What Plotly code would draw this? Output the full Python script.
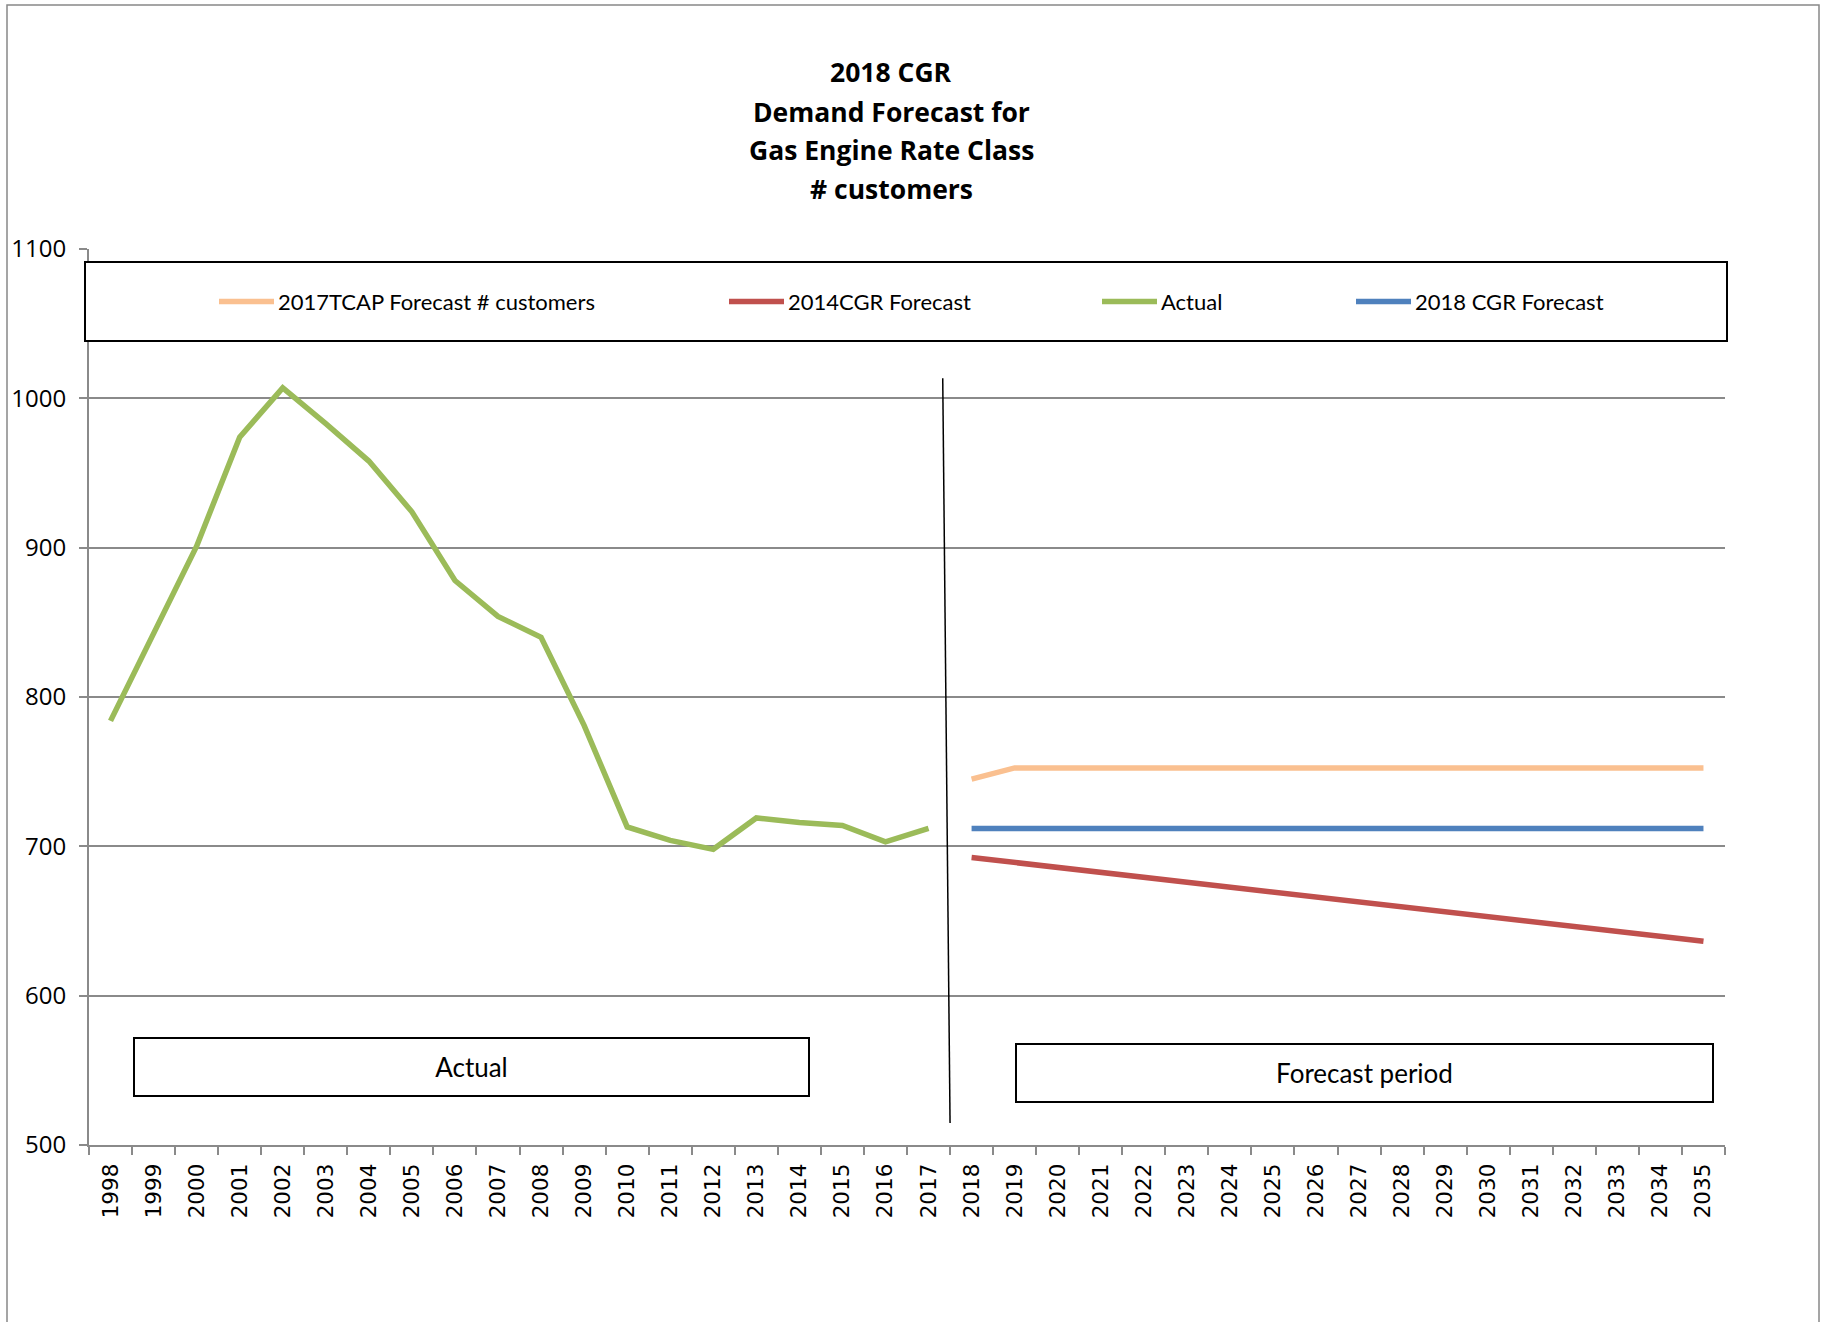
import plotly.graph_objects as go

# Categories: years on the x axis
years = ["1998", "1999", "2000", "2001", "2002", "2003", "2004", "2005", "2006", "2007",
         "2008", "2009", "2010", "2011", "2012", "2013", "2014", "2015", "2016", "2017",
         "2018", "2019", "2020", "2021", "2022", "2023", "2024", "2025", "2026", "2027",
         "2028", "2029", "2030", "2031", "2032", "2033", "2034", "2035"]
actual_years = years[:20]
forecast_years = years[20:]

# Series values (# customers)
actual = [784, 843, 901, 974, 1007, 983, 958, 924, 878, 854,
          840, 781, 713, 704, 698, 719, 716, 714, 703, 712]
tcap_2017 = [745, 752.5, 752.5, 752.5, 752.5, 752.5, 752.5, 752.5, 752.5,
             752.5, 752.5, 752.5, 752.5, 752.5, 752.5, 752.5, 752.5, 752.5]
cgr_2014 = [692.5, 689.2, 685.9, 682.6, 679.3, 676.0, 672.7, 669.4, 666.1,
            662.8, 659.5, 656.2, 652.9, 649.6, 646.3, 643.0, 639.7, 636.4]
cgr_2018 = [712, 712, 712, 712, 712, 712, 712, 712, 712,
            712, 712, 712, 712, 712, 712, 712, 712, 712]

series_names = ["2017TCAP Forecast # customers", "2014CGR Forecast", "Actual", "2018 CGR Forecast"]
series_colors = ["#FAC090", "#C0504D", "#9BBB59", "#4F81BD"]

title_lines = ["2018 CGR", "Demand Forecast for", "Gas Engine Rate Class", "# customers"]
y_ticks = [500, 600, 700, 800, 900, 1000, 1100]

W, H = 1826, 1322
ML, MR, MT, MB = 89, 101, 249, 177
PW, PH = W - ML - MR, H - MT - MB

TEXT_FONT = "Lato, 'Open Sans', sans-serif"
TITLE_FONT = "'Open Sans', Lato, sans-serif"
GRID = "#8a8a8a"


def px(x):
    return (x - ML) / PW


def py(y):
    return (H - MB - y) / PH


fig = go.Figure()
fig.add_trace(go.Scatter(x=forecast_years, y=tcap_2017, mode="lines", name=series_names[0],
                         line=dict(color=series_colors[0], width=5.5), showlegend=False))
fig.add_trace(go.Scatter(x=forecast_years, y=cgr_2014, mode="lines", name=series_names[1],
                         line=dict(color=series_colors[1], width=5.5), showlegend=False))
fig.add_trace(go.Scatter(x=actual_years, y=actual, mode="lines", name=series_names[2],
                         line=dict(color=series_colors[2], width=5.5), showlegend=False))
fig.add_trace(go.Scatter(x=forecast_years, y=cgr_2018, mode="lines", name=series_names[3],
                         line=dict(color=series_colors[3], width=5.5), showlegend=False))

shapes = []
annotations = []

# outer frame
shapes.append(dict(type="rect", xref="paper", yref="paper",
                   x0=px(7), x1=px(1819), y0=py(1400), y1=py(5),
                   line=dict(color="#888888", width=1.5), layer="below"))

# legend frame and entries
shapes.append(dict(type="rect", xref="paper", yref="paper",
                   x0=px(85), x1=px(1727), y0=py(341), y1=py(262),
                   line=dict(color="black", width=2), fillcolor="white", layer="above"))
legend_x = [219, 729, 1102, 1356]
legend_y = 301.5
for name, color, x0 in zip(series_names, series_colors, legend_x):
    shapes.append(dict(type="line", xref="paper", yref="paper",
                       x0=px(x0), x1=px(x0 + 55), y0=py(legend_y), y1=py(legend_y),
                       line=dict(color=color, width=5.5), layer="above"))
    annotations.append(dict(text=name, xref="paper", yref="paper",
                            x=px(x0 + 57), y=py(legend_y), xanchor="left", yanchor="middle",
                            showarrow=False, font=dict(family=TEXT_FONT, size=22, color="black")))

# divider between history and forecast
shapes.append(dict(type="line", xref="x", yref="y",
                   x0=19.33, y0=1013.5, x1=19.5, y1=514.7,
                   line=dict(color="black", width=1.5)))

# title
title_y = [72, 111.5, 150.5, 189]
for line, yy in zip(title_lines, title_y):
    annotations.append(dict(text="<b>%s</b>" % line, xref="paper", yref="paper",
                            x=px(891), y=py(yy), xanchor="center", yanchor="middle",
                            showarrow=False, font=dict(family=TITLE_FONT, size=26.5, color="black")))

# period labels
annotations.append(dict(text="Actual", xref="paper", yref="paper",
                        x=px(471.5), y=py(1067), xanchor="center", yanchor="middle",
                        width=673, height=56, borderpad=0, borderwidth=2, bordercolor="black",
                        bgcolor="white", showarrow=False,
                        font=dict(family=TEXT_FONT, size=26, color="black")))
annotations.append(dict(text="Forecast period", xref="paper", yref="paper",
                        x=px(1364.5), y=py(1073), xanchor="center", yanchor="middle",
                        width=695, height=56, borderpad=0, borderwidth=2, bordercolor="black",
                        bgcolor="white", showarrow=False,
                        font=dict(family=TEXT_FONT, size=26, color="black")))

fig.update_layout(
    width=W, height=H,
    margin=dict(l=ML, r=MR, t=MT, b=MB, autoexpand=False),
    paper_bgcolor="white", plot_bgcolor="white",
    showlegend=False,
    shapes=shapes, annotations=annotations,
    xaxis=dict(type="category", categoryorder="array", categoryarray=years,
               range=[-0.5, 37.5], tickson="boundaries", ticks="outside", ticklen=8,
               tickcolor=GRID, tickwidth=1.5, showline=True, linecolor=GRID, linewidth=2,
               showgrid=False, tickangle=-90, ticklabelstandoff=8,
               tickfont=dict(family="DejaVu Sans", size=21.5, color="black")),
    yaxis=dict(range=[500, 1100], tickvals=y_ticks, ticks="outside", ticklen=8,
               tickcolor=GRID, tickwidth=1.5, showline=True, linecolor=GRID, linewidth=2,
               showgrid=True, gridcolor=GRID, gridwidth=2, zeroline=False,
               ticklabelstandoff=8,
               tickfont=dict(family=TITLE_FONT, size=24, color="black")),
)

fig.write_html("out.html")
